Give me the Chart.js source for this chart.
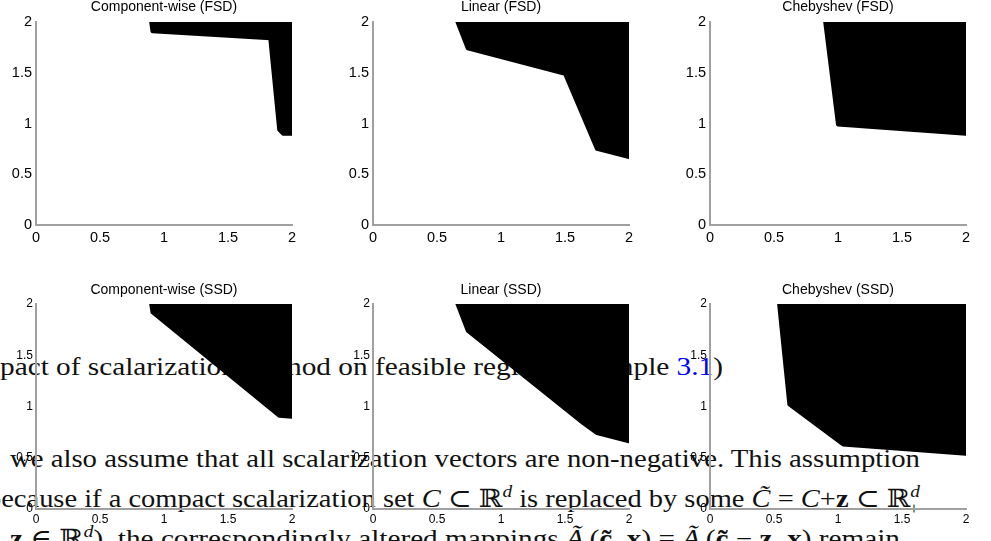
<!DOCTYPE html>
<html>
<head>
<meta charset="utf-8">
<script src="https://cdn.jsdelivr.net/npm/chart.js@4/dist/chart.umd.min.js"></script>
<style>
  body { margin: 0; background: #fff; width: 991px; height: 541px; overflow: hidden; position: relative; }
  #paper { position: absolute; left: 0; top: 0; }
  #paper text { font-family: "Liberation Serif", "DejaVu Serif", serif; font-size: 25px; fill: #111; }
  canvas { position: absolute; }
</style>
</head>
<body>
<!-- page text that shows through behind the figure -->
<svg id="paper" width="991" height="541">
  <text x="0" y="375" textLength="723" lengthAdjust="spacingAndGlyphs">pact of scalarization method on feasible region (Example <tspan fill="#0000ff">3.1</tspan>)</text>
  <text x="10" y="467" textLength="910" lengthAdjust="spacingAndGlyphs">we also assume that all scalarization vectors are non-negative.  This assumption</text>
  <text x="-13" y="507" textLength="933" lengthAdjust="spacingAndGlyphs">because if a compact scalarization set <tspan font-style="italic">C</tspan> ⊂ ℝ<tspan dy="-10" font-size="17" font-style="italic">d</tspan><tspan dy="10"> is replaced by some </tspan><tspan font-style="italic">C̃</tspan> = <tspan font-style="italic">C</tspan>+<tspan font-weight="bold">z</tspan> ⊂ ℝ<tspan dy="-10" font-size="17" font-style="italic">d</tspan><tspan dy="17" dx="-10" font-size="17">+</tspan></text>
  <text x="10" y="547" textLength="890" lengthAdjust="spacingAndGlyphs"><tspan font-weight="bold">z</tspan> ∈ ℝ<tspan dy="-10" font-size="17" font-style="italic">d</tspan><tspan dy="10">), the correspondingly altered mappings </tspan><tspan font-style="italic">Ã</tspan><tspan dy="5" font-size="17" font-style="italic">t</tspan><tspan dy="-5">(</tspan><tspan font-weight="bold">c̃</tspan>, <tspan font-weight="bold">x</tspan>) = <tspan font-style="italic">Ã</tspan><tspan dy="5" font-size="17" font-style="italic">t</tspan><tspan dy="-5">(</tspan><tspan font-weight="bold">c̃</tspan> − <tspan font-weight="bold">z</tspan>, <tspan font-weight="bold">x</tspan>) remain</text>
</svg>

<script>
// axis ticks shared by all six panels
const tickValues = [0, 0.5, 1, 1.5, 2];
const tickLabels = ['0', '0.5', '1', '1.5', '2'];

const titles = ['Component-wise (FSD)', 'Linear (FSD)', 'Chebyshev (FSD)',
    'Component-wise (SSD)', 'Linear (SSD)', 'Chebyshev (SSD)'];

// feasible region outlines
const cwFsdX = [0.9, 0.91, 1.83, 1.9, 1.93, 2, 2, 0.9];
const cwFsdY = [2, 1.91, 1.84, 0.94, 0.9, 0.9, 2, 2];

const linFsdX = [0.66, 0.74, 1.5, 1.75, 2, 2, 0.66];
const linFsdY = [2, 1.74, 1.49, 0.75, 0.67, 2, 2];

const chFsdX = [0.9, 1, 2, 2, 0.9];
const chFsdY = [2, 0.99, 0.9, 2, 2];

const cwSsdX = [0.9, 0.91, 1.9, 2, 2, 0.9];
const cwSsdY = [2, 1.92, 0.91, 0.9, 2, 2];

const linSsdX = [0.66, 0.74, 1.64, 1.75, 2, 2, 0.66];
const linSsdY = [2, 1.74, 0.84, 0.74, 0.66, 2, 2];

const chSsdX = [0.54, 0.62, 1.04, 2, 2, 0.54];
const chSsdY = [2, 1.02, 0.63, 0.54, 2, 2];

const regionsX = [cwFsdX, linFsdX, chFsdX, cwSsdX, linSsdX, chSsdX];
const regionsY = [cwFsdY, linFsdY, chFsdY, cwSsdY, linSsdY, chSsdY];

// where each small plot sits on the page
const boxes = [
    {left: 0,   top: -1,  w: 330, h: 261, yW: 36, padR: 38, tb: 6.2, xH: 35, tick: 14.5, pad: 4},
    {left: 330, top: -1,  w: 330, h: 261, yW: 43, padR: 31, tb: 6.2, xH: 35, tick: 14.5, pad: 4},
    {left: 660, top: -1,  w: 331, h: 261, yW: 50, padR: 25, tb: 6.2, xH: 35, tick: 14.5, pad: 4},
    {left: 0,   top: 282, w: 330, h: 259, yW: 36, padR: 38, tb: 5.2, xH: 32, tick: 12, pad: 3},
    {left: 330, top: 282, w: 330, h: 259, yW: 43, padR: 31, tb: 5.2, xH: 32, tick: 12, pad: 3},
    {left: 660, top: 282, w: 331, h: 259, yW: 50, padR: 25, tb: 5.2, xH: 32, tick: 12, pad: 3}
];

const axisColor = '#a0a0a0';
const sansFont = '"Liberation Sans", Arial, sans-serif';

function makeAxis(box, isX) {
    return {
        type: 'linear',
        min: 0,
        max: 2,
        grid: { display: false, drawTicks: false },
        border: { display: true, color: axisColor, width: 2 },
        afterBuildTicks: scale => {
            scale.ticks = tickValues.map(v => ({ value: v }));
        },
        afterFit: scale => {
            if (isX) scale.height = box.xH; else scale.width = box.yW;
        },
        ticks: {
            color: '#000',
            padding: box.pad,
            autoSkip: false,
            maxRotation: 0,
            font: { family: sansFont, size: box.tick },
            callback: (value, index) => tickLabels[index]
        }
    };
}

for (let i = 0; i < boxes.length; i++) {
    const box = boxes[i];
    const cv = document.createElement('canvas');
    cv.width = box.w;
    cv.height = box.h;
    cv.style.left = box.left + 'px';
    cv.style.top = box.top + 'px';
    cv.style.width = box.w + 'px';
    cv.style.height = box.h + 'px';
    document.body.appendChild(cv);

    const points = regionsX[i].map((x, j) => ({ x: x, y: regionsY[i][j] }));

    new Chart(cv.getContext('2d'), {
        type: 'scatter',
        data: {
            datasets: [{
                data: points,
                showLine: true,
                fill: 'shape',
                tension: 0,
                pointRadius: 0,
                borderColor: '#000',
                backgroundColor: '#000',
                borderWidth: 4,
                borderJoinStyle: 'round',
                borderCapStyle: 'round'
            }]
        },
        options: {
            responsive: false,
            animation: false,
            devicePixelRatio: 1,
            layout: { padding: { left: 0, right: box.padR, top: 0, bottom: 0 } },
            plugins: {
                legend: { display: false },
                tooltip: { enabled: false },
                title: {
                    display: true,
                    text: titles[i],
                    fullSize: false,
                    color: '#000',
                    font: { family: sansFont, size: 14, weight: 'normal' },
                    padding: { top: 0, bottom: box.tb }
                }
            },
            scales: {
                x: makeAxis(box, true),
                y: makeAxis(box, false)
            }
        }
    });
}
</script>
</body>
</html>
